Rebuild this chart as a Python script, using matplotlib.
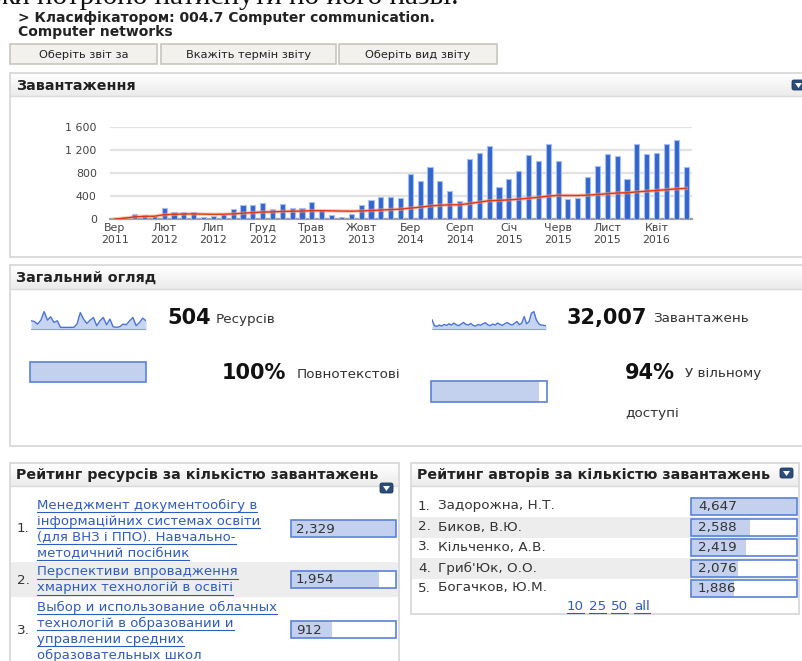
import numpy as np
import matplotlib.pyplot as plt
from matplotlib.patches import Rectangle, FancyBboxPatch, Polygon

W, H = 802, 661

# ---- data ----
month_labels = ['Вер\n2011', 'Лют\n2012', 'Лип\n2012', 'Груд\n2012', 'Трав\n2013', 'Жовт\n2013',
                'Бер\n2014', 'Серп\n2014', 'Січ\n2015', 'Черв\n2015', 'Лист\n2015', 'Квіт\n2016']
downloads = [0, 30, 85, 70, 60, 200, 130, 115, 115, 40, 60, 85, 170, 250, 250, 280, 170, 265,
             185, 200, 290, 150, 75, 40, 85, 250, 330, 380, 390, 370, 777, 661, 911, 661, 493,
             307, 1050, 1143, 1270, 551, 690, 841, 1108, 1009, 1299, 1009, 354, 371, 731, 928,
             1137, 1090, 690, 1311, 1125, 1148, 1299, 1369, 911]
trend = [0, 15, 38, 46, 49, 74, 82, 86, 89, 85, 82, 83, 89, 101, 111, 121, 124, 132, 135, 138,
         145, 145, 142, 138, 136, 140, 147, 156, 164, 171, 190, 205, 226, 239, 246, 248, 270,
         293, 318, 324, 333, 345, 362, 377, 398, 411, 409, 409, 415, 426, 440, 452, 456, 472,
         484, 496, 510, 525, 532]
yticks = [0, 400, 800, 1200, 1600]
ytick_labels = ['0', '400', '800', '1 200', '1 600']

spark_resources = [27, 25, 17, 29, 55, 29, 39, 22, 27, 7, 7, 7, 7, 7, 17, 52, 32, 19, 29, 37,
                   12, 27, 37, 15, 32, 9, 7, 9, 17, 15, 27, 37, 12, 22, 35, 27]
spark_downloads = [30, 12, 10, 14, 11, 16, 13, 18, 14, 20, 15, 12, 17, 22, 16, 14, 19, 13, 11,
                   16, 13, 18, 21, 15, 12, 17, 14, 20, 16, 13, 18, 22, 17, 14, 19, 25, 15, 20,
                   40, 18, 24, 50, 55, 30, 18, 14, 13, 12]

res_titles = [['Менеджмент документообігу в', 'інформаційних системах освіти',
               '(для ВНЗ і ППО). Навчально-', 'методичний посібник'],
              ['Перспективи впровадження', 'хмарних технологій в освіті'],
              ['Выбор и использование облачных', 'технологій в образовании и',
               'управлении средних', 'образовательных школ']]
res_values = [2329, 1954, 912]

authors = ['Задорожна, Н.Т.', 'Биков, В.Ю.', 'Кільченко, А.В.', "Гриб'Юк, О.О.", 'Богачков, Ю.М.']
author_values = [4647, 2588, 2419, 2076, 1886]

BLUE = '#3366cc'
LINK = '#2f5cbf'
TXT = '#333333'
BOXFILL = '#c3d1ef'
BOXEDGE = '#5a82d8'
FS = 9.7       # body text
FST = 10.3     # panel titles
FSB = 15       # big numbers

fig = plt.figure(figsize=(W / 100, H / 100), dpi=100)
fig.patch.set_facecolor('white')
ax = fig.add_axes([0, 0, 1, 1])
ax.set_xlim(0, W)
ax.set_ylim(H, 0)
ax.axis('off')


def px_axes(x0, y0, x1, y1):
    return fig.add_axes([x0 / W, 1 - y1 / H, (x1 - x0) / W, (y1 - y0) / H])


grad = np.linspace(0, 1, 50).reshape(-1, 1)
gcmap = plt.matplotlib.colors.LinearSegmentedColormap.from_list('g', ['#ffffff', '#ebebeb'])


def panel(x0, y0, x1, y1, title, hdr=23):
    ax.add_patch(Rectangle((x0, y0), x1 - x0, y1 - y0, fc='white', ec='#d6d6d6', lw=1.2, zorder=1))
    ax.imshow(grad, extent=[x0 + 1, x1 - 1, y0 + hdr, y0 + 1], aspect='auto', cmap=gcmap, zorder=2)
    ax.plot([x0 + 1, x1 - 1], [y0 + hdr, y0 + hdr], color='#dadada', lw=1, zorder=3)
    ax.text(x0 + 6, y0 + hdr / 2 + 1, title, fontsize=FST, fontweight='bold', color='#222222',
            va='center', ha='left', zorder=4)


def dropdown(x, y):
    ax.add_patch(FancyBboxPatch((x, y), 13, 10, boxstyle='round,pad=0,rounding_size=2',
                                fc='#2c4d7c', ec='#1d3559', lw=0.6, zorder=5))
    ax.add_patch(Polygon([[x + 3, y + 3], [x + 10, y + 3], [x + 6.5, y + 8]], closed=True,
                         fc='white', ec='none', zorder=6))


# ---- page heading ----
ax.text(-6, 4.5, 'жи потрібно натиснути по його назві.', fontsize=21, family='Liberation Serif',
        va='baseline', ha='left', color='#111111')
ax.text(18, 18, '> Класифікатором: 004.7 Computer communication.', fontsize=10,
        fontweight='bold', va='center', color='#222222')
ax.text(18, 32, 'Computer networks', fontsize=10, fontweight='bold', va='center', color='#222222')
for (bx0, bx1), lab in zip([(10, 157), (161, 336), (339, 497)],
                           ['Оберіть звіт за', 'Вкажіть термін звіту', 'Оберіть вид звіту']):
    ax.add_patch(Rectangle((bx0, 44), bx1 - bx0, 20, fc='#f2f1ee', ec='#c9c5bd', lw=1.2))
    ax.text((bx0 + bx1) / 2, 54.5, lab, fontsize=8.2, ha='center', va='center', color='#222222')

# ---- panel: Завантаження ----
panel(10, 73, 808, 257, 'Завантаження')
dropdown(792, 80)

cax = px_axes(110, 127, 692, 219)
x = np.arange(len(downloads))
cax.bar(x, downloads, width=0.52, color=BLUE, edgecolor='#a9bff0', linewidth=0.8, zorder=3)
cax.plot(x, trend, color='#f2a08c', lw=2.6, alpha=0.55, zorder=4)
cax.plot(x, trend, color='#dc3912', lw=1.0, zorder=5)
cax.set_xlim(-0.5, 58.6)
cax.set_ylim(0, 1600)
cax.set_yticks(yticks)
cax.set_yticklabels(ytick_labels)
cax.set_xticks(np.arange(0, 60, 5))
cax.set_xticklabels(month_labels, linespacing=1.25)
cax.tick_params(length=0, labelsize=7.9, labelcolor='#444444')
cax.tick_params(axis='y', pad=9.5)
cax.tick_params(axis='x', pad=3)
cax.grid(axis='y', color='#e2e2e2', lw=1.6, zorder=0)
for s in ['top', 'right', 'left']:
    cax.spines[s].set_visible(False)
cax.spines['bottom'].set_color('#a0a0a0')
cax.spines['bottom'].set_linewidth(1.6)
cax.set_facecolor('none')

# ---- panel: Загальний огляд ----
panel(10, 265, 808, 446, 'Загальний огляд', hdr=24)


def sparkline(x0, x1, vals):
    sax = px_axes(x0, 305, x1, 330)
    xs = np.arange(len(vals))
    sax.fill_between(xs, vals, 0, color='#c7d5f2', lw=0)
    sax.plot(xs, vals, color='#4a74d8', lw=1)
    sax.axhline(0, color='#8ea3cf', lw=1.5)
    sax.set_xlim(0, len(vals) - 1)
    sax.set_ylim(-1, 75)
    sax.axis('off')


sparkline(31, 146, spark_resources)
sparkline(432, 546, spark_downloads)

ax.text(167, 318, '504', fontsize=FSB, fontweight='heavy', va='center', color='#111111')
ax.text(216, 319, 'Ресурсів', fontsize=FS, va='center', color=TXT)
ax.text(567, 318, '32,007', fontsize=FSB, fontweight='heavy', va='center', color='#111111')
ax.text(653, 319, 'Завантажень', fontsize=FS, va='center', color=TXT)

ax.add_patch(Rectangle((30, 362), 116, 20, fc=BOXFILL, ec=BOXEDGE, lw=1.2))
ax.text(222, 373, '100%', fontsize=FSB, fontweight='heavy', va='center', color='#111111')
ax.text(297, 374, 'Повнотекстові', fontsize=FS, va='center', color=TXT)

ax.add_patch(Rectangle((431, 381), 116 * 0.93, 21, fc=BOXFILL, ec='none'))
ax.add_patch(Rectangle((431, 381), 116, 21, fc='none', ec=BOXEDGE, lw=1.2))
ax.text(625, 373, '94%', fontsize=FSB, fontweight='heavy', va='center', color='#111111')
ax.text(685, 374, 'У вільному', fontsize=FS, va='center', color=TXT)
ax.text(625, 414, 'доступі', fontsize=FS, va='center', color=TXT)

# ---- panel: Рейтинг ресурсів ----
panel(10, 463, 399, 680, 'Рейтинг ресурсів за кількістю завантажень')
dropdown(380, 483)
ax.add_patch(Rectangle((11, 562), 387, 35, fc='#ededed', ec='none', zorder=1.5))

link_texts = []
row_lines_y = [[505, 521, 537, 553], [572, 588], [607, 623, 639, 655]]
num_y = [529, 580, 631]
box_y = [520, 571, 621]
for i, (lines, val) in enumerate(zip(res_titles, res_values)):
    ax.text(17, num_y[i], f'{i + 1}.', fontsize=FS, va='center', color=TXT, zorder=4)
    for ln, ly in zip(lines, row_lines_y[i]):
        t = ax.text(37, ly, ln, fontsize=9.5, va='center', color=LINK, zorder=4)
        link_texts.append((t, ly))
    frac = val / max(res_values)
    ax.add_patch(Rectangle((291, box_y[i]), 105, 17, fc='white', ec='none', zorder=3))
    ax.add_patch(Rectangle((291, box_y[i]), 105 * frac, 17, fc=BOXFILL, ec='none', zorder=3))
    ax.add_patch(Rectangle((291, box_y[i]), 105, 17, fc='none', ec=BOXEDGE, lw=1.2, zorder=4))
    ax.text(296, box_y[i] + 9, f'{val:,}', fontsize=FS, va='center', color=TXT, zorder=5)

# ---- panel: Рейтинг авторів ----
panel(411, 463, 799, 614, 'Рейтинг авторів за кількістю завантажень')
dropdown(780, 468)
author_y = [506, 527, 547, 568, 588]
for i, (name, val) in enumerate(zip(authors, author_values)):
    yy = author_y[i]
    if i % 2 == 1:
        ax.add_patch(Rectangle((412, yy - 10), 386, 20.5, fc='#ededed', ec='none', zorder=1.5))
    ax.text(418, yy, f'{i + 1}.', fontsize=FS, va='center', color=TXT, zorder=4)
    ax.text(438, yy, name, fontsize=FS, va='center', color=TXT, zorder=4)
    frac = val / max(author_values)
    ax.add_patch(Rectangle((691, yy - 8.5), 106, 17, fc='white', ec='none', zorder=3))
    ax.add_patch(Rectangle((691, yy - 8.5), 106 * frac, 17, fc=BOXFILL, ec='none', zorder=3))
    ax.add_patch(Rectangle((691, yy - 8.5), 106, 17, fc='none', ec=BOXEDGE, lw=1.2, zorder=4))
    ax.text(698, yy + 0.5, f'{val:,}', fontsize=FS, va='center', color=TXT, zorder=5)

for lab, lx in zip(['10', '25', '50', 'all'], [567, 589, 611, 634]):
    t = ax.text(lx, 606, lab, fontsize=FS, va='center', color=LINK, zorder=4)
    link_texts.append((t, 606))

# underline the links
fig.canvas.draw()
r = fig.canvas.get_renderer()
inv = ax.transData.inverted()
for t, ly in link_texts:
    bb = t.get_window_extent(r)
    xa = inv.transform((bb.x0, 0))[0]
    xb = inv.transform((bb.x1, 0))[0]
    ax.plot([xa, xb], [ly + 6.5, ly + 6.5], color=LINK, lw=0.8, zorder=4)

ax.set_xlim(0, W)
ax.set_ylim(H, 0)
fig.savefig('out.png', dpi=100, facecolor='white')
